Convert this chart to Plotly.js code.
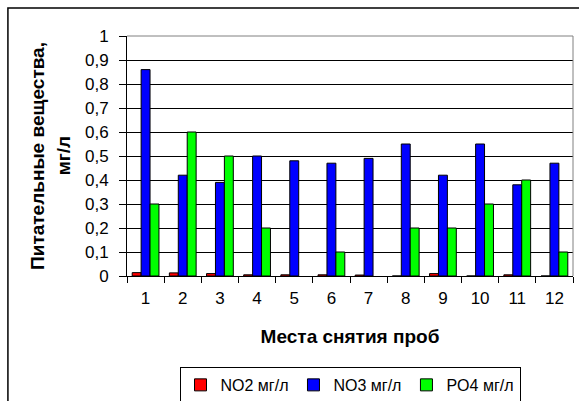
<!DOCTYPE html>
<html>
<head>
<meta charset="utf-8">
<script src="https://cdn.plot.ly/plotly-3.0.1.min.js"></script>
<style>
  html, body { margin: 0; padding: 0; background: #fff; }
  #chart { width: 579px; height: 401px; }
</style>
</head>
<body>
<div id="chart"></div>
<script>
// Sampling sites
const sites = ['1', '2', '3', '4', '5', '6', '7', '8', '9', '10', '11', '12'];

// Nutrient concentrations, mg/l
const no2 = [0.014, 0.013, 0.010, 0.005, 0.005, 0.005, 0.004, 0, 0.010, 0, 0.005, 0];
const no3 = [0.86, 0.42, 0.39, 0.50, 0.48, 0.47, 0.49, 0.55, 0.42, 0.55, 0.38, 0.47];
const po4 = [0.30, 0.60, 0.50, 0.20, null, 0.10, null, 0.20, 0.20, 0.30, 0.40, 0.10];

const seriesNames = ['NO2 мг/л', 'NO3 мг/л', 'PO4 мг/л'];
const seriesColors = ['#ff0000', '#0000ff', '#00ff00'];

const yTitleLines = ['Питательные вещества,', 'мг/л'];
const xTitle = 'Места снятия проб';

const FONT = 'Arial, "Liberation Sans", sans-serif';
const TICK_SIZE = 17;
const TITLE_SIZE = 19;

const traces = [no2, no3, po4].map((vals, i) => ({
  type: 'bar',
  name: seriesNames[i],
  x: sites,
  y: vals,
  marker: { color: seriesColors[i], line: { color: '#000', width: 1 } }
}));

const layout = {
  width: 579,
  height: 401,
  margin: { l: 127, r: 6, t: 36, b: 125, autoexpand: false },
  paper_bgcolor: '#fff',
  plot_bgcolor: '#fff',
  separators: ', ',
  font: { family: FONT, size: 16, color: '#000' },
  barmode: 'group',
  bargap: 0.28,
  bargroupgap: 0,
  showlegend: true,
  legend: {
    orientation: 'h',
    x: 0.5, xanchor: 'center',
    y: -0.379, yanchor: 'top',
    bordercolor: '#000', borderwidth: 1,
    font: { family: FONT, size: 16, color: '#000' },
    itemwidth: 30,
    traceorder: 'normal'
  },
  xaxis: {
    type: 'category',
    tickson: 'boundaries',
    ticks: 'outside', ticklen: 6, tickcolor: '#000',
    ticklabelstandoff: 7,
    showline: true, linecolor: '#000', linewidth: 1,
    showgrid: false,
    tickfont: { family: FONT, size: TICK_SIZE, color: '#000' },
    title: { text: xTitle, font: { family: FONT, size: TITLE_SIZE, color: '#000', weight: 'bold' }, standoff: 22 },
    automargin: false
  },
  yaxis: {
    range: [0, 1],
    dtick: 0.1,
    ticks: 'outside', ticklen: 7, tickcolor: '#000',
    ticklabelstandoff: 7,
    showline: true, linecolor: '#000', linewidth: 1,
    showgrid: true, gridcolor: '#000', gridwidth: 1,
    zeroline: false,
    tickfont: { family: FONT, size: TICK_SIZE, color: '#000' },
    automargin: false
  },
  annotations: yTitleLines.map((t, i) => ({
    text: t,
    xref: 'paper', yref: 'paper',
    x: i === 0 ? -0.202 : -0.143, y: 0.5,
    xanchor: 'center', yanchor: 'middle',
    textangle: -90,
    showarrow: false,
    font: { family: FONT, size: TITLE_SIZE, color: '#000', weight: 'bold' }
  })),
  shapes: [
    // plot-area frame, top and right edges
    { type: 'line', xref: 'paper', yref: 'paper', x0: 0, x1: 1, y0: 1, y1: 1, line: { color: '#808080', width: 1 } },
    { type: 'line', xref: 'paper', yref: 'paper', x0: 1, x1: 1, y0: 0, y1: 1, line: { color: '#808080', width: 1 } },
    // outer chart frame
    { type: 'rect', xref: 'paper', yref: 'paper', x0: -0.267, x1: 1.2, y0: -1, y1: 1.117, line: { color: '#000', width: 1.5 } }
  ]
};

Plotly.newPlot('chart', traces, layout, { displayModeBar: false, staticPlot: true });
</script>
</body>
</html>
